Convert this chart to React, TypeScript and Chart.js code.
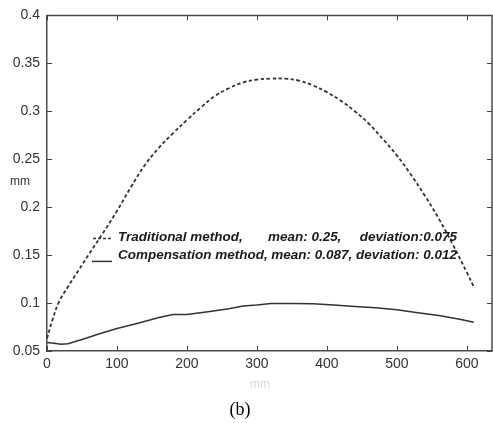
import React, { useEffect, useRef } from "react";
import { Chart, registerables } from "chart.js";

Chart.register(...registerables);

// ---- data ----
const tradX = [0, 8, 17, 30, 45, 60, 80, 100, 120, 140, 160, 180, 200, 220, 240, 260, 280, 300, 320, 340, 360, 380, 400, 420, 440, 460, 480, 500, 520, 540, 560, 580, 600, 610];
const tradY = [0.063, 0.083, 0.101, 0.117, 0.134, 0.151, 0.173, 0.196, 0.221, 0.244, 0.262, 0.277, 0.291, 0.304, 0.316, 0.324, 0.330, 0.333, 0.334, 0.334, 0.332, 0.327, 0.320, 0.311, 0.300, 0.287, 0.271, 0.254, 0.234, 0.212, 0.188, 0.161, 0.132, 0.117];

const compX = [0, 10, 20, 30, 50, 75, 100, 130, 160, 180, 200, 230, 260, 280, 300, 320, 350, 380, 410, 440, 470, 500, 530, 560, 590, 610];
const compY = [0.059, 0.058, 0.057, 0.0575, 0.062, 0.068, 0.0735, 0.079, 0.085, 0.088, 0.088, 0.091, 0.094, 0.097, 0.098, 0.0995, 0.0995, 0.0993, 0.098, 0.0965, 0.095, 0.093, 0.090, 0.087, 0.083, 0.080];

const xTicks = [0, 100, 200, 300, 400, 500, 600];
const yTicks = [0.05, 0.1, 0.15, 0.2, 0.25, 0.3, 0.35, 0.4];

const legendLine1 = ["Traditional method,", "mean: 0.25,", "deviation:0.075"];
const legendLine2 = "Compensation method, mean: 0.087, deviation: 0.012";
const yTitle = "mm";
const xTitle = "mm";
const caption = "(b)";

const SANS = "'Liberation Sans', Arial, sans-serif";

const decorPlugin = {
  id: "decor",
  afterDraw(chart: any) {
    const { ctx, chartArea: a, scales } = chart;
    const xs = scales.x;
    const ys = scales.y;
    ctx.save();
    // box top/right
    ctx.strokeStyle = "#4a4a4a";
    ctx.lineWidth = 1.5;
    ctx.beginPath();
    ctx.moveTo(a.left, a.top);
    ctx.lineTo(a.right, a.top);
    ctx.lineTo(a.right, a.bottom);
    ctx.stroke();
    // inward ticks
    ctx.lineWidth = 1;
    ctx.strokeStyle = "#444";
    ctx.beginPath();
    xTicks.forEach((v) => {
      const px = Math.round(xs.getPixelForValue(v)) + 0.5;
      ctx.moveTo(px, a.bottom);
      ctx.lineTo(px, a.bottom - 5);
      ctx.moveTo(px, a.top);
      ctx.lineTo(px, a.top + 5);
    });
    yTicks.forEach((v) => {
      const py = Math.round(ys.getPixelForValue(v)) + 0.5;
      ctx.moveTo(a.left, py);
      ctx.lineTo(a.left + 5, py);
      ctx.moveTo(a.right, py);
      ctx.lineTo(a.right - 5, py);
    });
    ctx.stroke();

    // legend
    const lx = a.left + 71;
    const y1 = a.top + 222;
    const y2 = a.top + 240;
    ctx.fillStyle = "#1a1a1a";
    ctx.font = `italic bold 12.5px ${SANS}`;
    ctx.textBaseline = "middle";
    const fitText = (t: string, x: number, y: number, w: number) => {
      const m = ctx.measureText(t).width;
      ctx.save();
      ctx.translate(x, y);
      ctx.scale(w / m, 1);
      ctx.textAlign = "left";
      ctx.fillText(t, 0, 0);
      ctx.restore();
    };
    fitText(legendLine2, lx, y2, 339);
    const m0 = ctx.measureText(legendLine1[0]).width;
    const sc = 339 / ctx.measureText(legendLine2).width;
    fitText(legendLine1[0], lx, y1, m0 * sc);
    const m1 = ctx.measureText(legendLine1[1]).width;
    fitText(legendLine1[1], lx + 150, y1, m1 * sc);
    const m2 = ctx.measureText(legendLine1[2]).width;
    fitText(legendLine1[2], lx + 339 - m2 * sc, y1, m2 * sc);

    // legend samples
    ctx.strokeStyle = "#333";
    ctx.lineWidth = 1.5;
    ctx.setLineDash([3, 2]);
    ctx.beginPath();
    ctx.moveTo(lx - 25, y1 + 1);
    ctx.lineTo(lx - 5, y1 + 1);
    ctx.stroke();
    ctx.setLineDash([]);
    ctx.beginPath();
    ctx.moveTo(lx - 26, y2 + 6);
    ctx.lineTo(lx - 6, y2 + 6);
    ctx.stroke();

    // y title (horizontal, Matlab style)
    ctx.fillStyle = "#333";
    ctx.font = `12px ${SANS}`;
    ctx.textAlign = "center";
    ctx.fillText(yTitle, 20, 182);
    // x title (faint)
    ctx.fillStyle = "#d8d8d8";
    ctx.fillText(xTitle, 260, 385);
    // caption
    ctx.fillStyle = "#000";
    ctx.font = `18px 'Liberation Serif', 'Times New Roman', serif`;
    ctx.fillText(caption, 240, 410);
    ctx.restore();
  },
};

export default function App() {
  const ref = useRef<HTMLCanvasElement | null>(null);
  useEffect(() => {
    if (!ref.current) return;
    const fmt = (v: any) => String(parseFloat(Number(v).toFixed(2)));
    const chart = new Chart(ref.current, {
      type: "line",
      data: {
        datasets: [
          {
            label: "Traditional method",
            data: tradX.map((x, i) => ({ x, y: tradY[i] })),
            borderColor: "#333",
            borderWidth: 1.8,
            borderDash: [3.5, 2.5],
            pointRadius: 0,
            tension: 0.4,
            fill: false,
          },
          {
            label: "Compensation method",
            data: compX.map((x, i) => ({ x, y: compY[i] })),
            borderColor: "#333",
            borderWidth: 1.5,
            pointRadius: 0,
            tension: 0,
            fill: false,
          },
        ],
      },
      options: {
        animation: false,
        responsive: false,
        layout: { padding: { left: 0, top: 12, right: 1, bottom: 0 } },
        plugins: { legend: { display: false }, tooltip: { enabled: false } },
        scales: {
          x: {
            type: "linear",
            min: 0,
            max: 636,
            grid: { display: false, drawTicks: false },
            border: { display: true, color: "#4a4a4a", width: 1.5 },
            ticks: {
              stepSize: 100,
              includeBounds: false,
              color: "#333",
              font: { family: SANS, size: 14 },
              padding: 5,
              maxRotation: 0,
              callback: (v: any) => fmt(v),
            },
            afterFit: (s: any) => {
              s.height = 72;
            },
          },
          y: {
            type: "linear",
            min: 0.05,
            max: 0.4,
            grid: { display: false, drawTicks: false },
            border: { display: true, color: "#4a4a4a", width: 1.5 },
            ticks: {
              stepSize: 0.05,
              includeBounds: false,
              color: "#333",
              font: { family: SANS, size: 14 },
              padding: 7,
              callback: (v: any) => fmt(v),
            },
            afterFit: (s: any) => {
              s.width = 47;
            },
          },
        },
      },
      plugins: [decorPlugin],
    });
    return () => chart.destroy();
  }, []);
  return (
    <div style={{ position: "absolute", left: 0, top: 0, width: 493, height: 423, background: "#fff" }}>
      <canvas ref={ref} width={493} height={423} style={{ display: "block", width: 493, height: 423 }} />
    </div>
  );
}
